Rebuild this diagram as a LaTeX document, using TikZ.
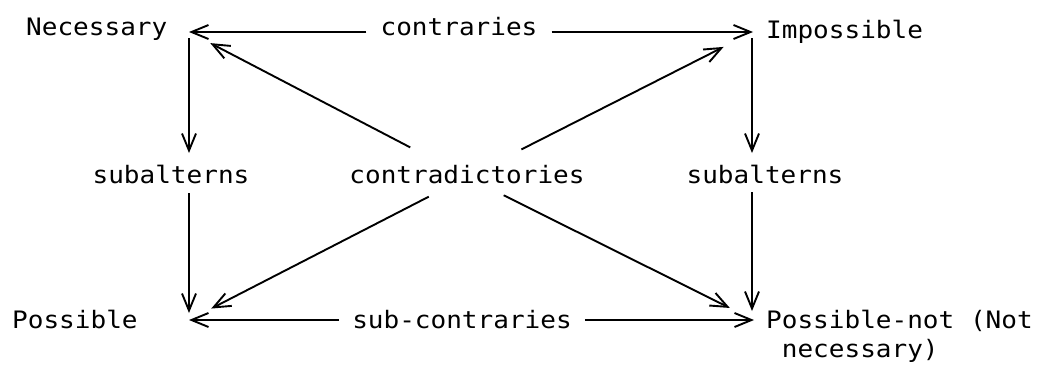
\documentclass[tikz,border=0pt]{standalone}
\usepackage{fontspec}
\setmonofont[FakeStretch=1.085]{DejaVu Sans Mono}
\usetikzlibrary{arrows.meta,calc}
\tikzset{
  lbl/.style={font=\ttfamily\fontsize{24}{29}\selectfont, inner sep=0pt},
  arr/.style={line width=1.9pt, -{Straight Barb[length=17pt,width=14pt,line width=1.9pt]}},
}
\begin{document}
\begin{tikzpicture}[x=1pt,y=-1pt]
\useasboundingbox (0,0) rectangle (1048,365);
% corners
\coordinate (N) at (189,32);
\coordinate (I) at (753,32);
\coordinate (P) at (189,320);
\coordinate (Q) at (754,320);
% labels
\node[lbl, anchor=base west] (nec) at (26,35) {Necessary};
\node[lbl, anchor=base west] (imp) at (766,38) {Impossible};
\node[lbl, anchor=base, inner xsep=14pt] (contr) at (459,35) {contraries};
\node[lbl, anchor=base, inner ysep=10pt] (subL) at (171,183) {subalterns};
\node[lbl, anchor=base] (contra) at (467,183) {contradictories};
\node[lbl, anchor=base, inner ysep=10pt] (subR) at (765,183) {subalterns};
\node[lbl, anchor=base west] (poss) at (12,328) {Possible};
\node[lbl, anchor=base, inner xsep=13pt] (subc) at (462,328) {sub-contraries};
\node[lbl, anchor=base west, align=left] (pnot) at (766,357) {Possible-not (Not\\\hphantom{n}necessary)};
\coordinate (hub) at ($(contra.base)+(0,-6)$);
% horizontal connectors
\draw[arr] (contr.west |- N) -- (N);
\draw[arr] (contr.east |- I) -- (I);
\draw[arr] (subc.west |- P) -- (P);
\draw[arr] (subc.east |- Q) -- (Q);
% vertical connectors
\draw[arr] ($(N)+(0,6)$) -- ($(N)+(0,121)$);
\draw[arr] ($(N)+(0,161)$) -- ($(P)+(0,-7)$);
\draw[arr] ($(I)+(-1,6)$) -- ($(I)+(-1,121)$);
\draw[arr] ($(I)+(-1,160)$) -- ($(Q)+(-2,-9)$);
% diagonals
\draw[arr, shorten <=64pt, shorten >=24pt] (hub) -- (N);
\draw[arr, shorten <=61pt, shorten >=33pt] (hub) -- (I);
\draw[arr, shorten <=43pt, shorten >=25pt] (hub) -- (P);
\draw[arr, shorten <=41pt, shorten >=27pt] (hub) -- (Q);
\end{tikzpicture}
\end{document}
